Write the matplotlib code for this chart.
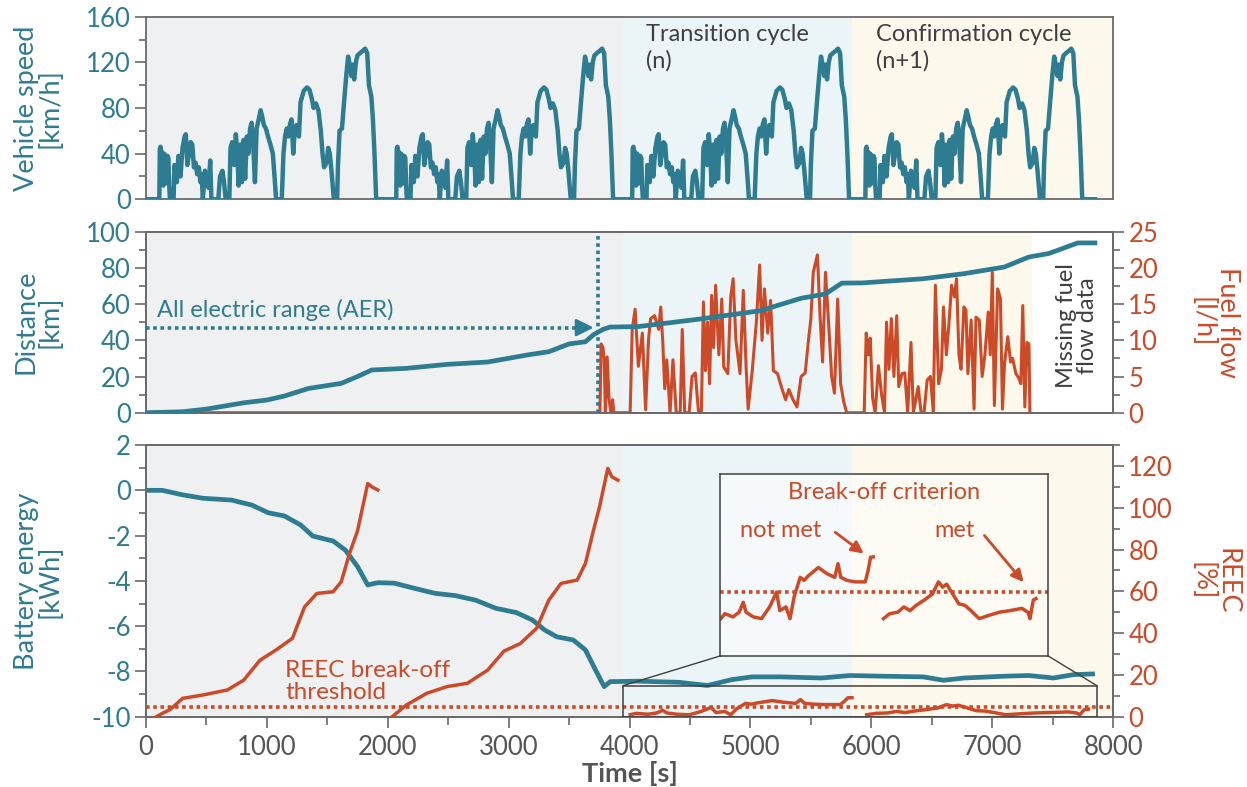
import matplotlib.pyplot as plt
from matplotlib.patches import Rectangle
from matplotlib.ticker import MultipleLocator

plt.rcParams['font.family'] = ['Lato', 'DejaVu Sans']
plt.rcParams['axes.unicode_minus'] = False

teal = '#2E7C91'
orange = '#CC4A28'
dark = '#3F3F3F'
spine_c = '#6A6A6A'

# one WLTP cycle: seconds from cycle start / km/h
cycle_t = [0, 10, 14, 20, 26, 30, 37, 43, 50, 57, 64, 70, 77, 85, 92, 98,
           128, 135, 155, 168, 185, 202, 219, 229, 242, 256, 269, 283, 296, 310,
           323, 337, 350, 360, 370, 387, 404, 417, 431, 441, 498, 512, 532, 545,
           559, 589, 599, 613, 630, 643, 656, 666, 680, 693, 707, 720, 734, 747,
           761, 774, 788, 801, 815, 832, 848, 862, 875, 892, 909, 929, 949, 963,
           976, 1023, 1037, 1050, 1064, 1077, 1091, 1104, 1118, 1131, 1144, 1165,
           1178, 1205, 1232, 1252, 1272, 1286, 1306, 1326, 1346, 1360, 1373, 1394,
           1407, 1420, 1434, 1454, 1481, 1488, 1501, 1521, 1542, 1558, 1572, 1585,
           1599, 1609, 1622, 1636, 1649, 1669, 1693, 1713, 1730, 1744, 1764, 1777,
           1790, 1804]
cycle_v = [0, 0, 44, 46, 14, 42, 36, 12, 40, 38, 30, 14, 38, 36, 12, 0,
           0, 30, 15, 38, 20, 45, 55, 57, 30, 40, 50, 48, 28, 32,
           22, 28, 15, 22, 0, 25, 20, 10, 34, 0, 0, 20, 25, 15,
           0, 0, 45, 50, 30, 57, 40, 12, 48, 15, 52, 18, 55, 40,
           62, 67, 45, 15, 62, 70, 78, 72, 65, 62, 55, 48, 40, 20,
           0, 0, 40, 55, 62, 55, 66, 70, 40, 62, 65, 55,
           85, 95, 98, 96, 88, 80, 84, 78, 60, 40, 28, 32,
           45, 40, 25, 0, 0, 30, 60, 62, 90, 110, 125, 118,
           108, 118, 105, 120, 126, 128, 130, 132, 128, 100, 90, 70,
           40, 0]
cycle_starts = [100, 2060, 4012, 5941]
speed_end = 7850

dist_t = [0, 300, 500, 811, 1000, 1144, 1345, 1615, 1750, 1868,
          2153, 2490, 2826, 3164, 3332, 3500, 3635, 3700, 3780, 3837,
          4074, 4577, 5080, 5418, 5621, 5756, 5924, 6428, 6766, 7101,
          7303, 7471, 7708, 7850]
dist_km = [0, 0.5, 2, 5.5, 7, 9.2, 13.4, 16.2, 20, 23.6,
           24.5, 26.7, 28, 32, 33.7, 38, 39.2, 43, 46, 47.3,
           47.6, 51.7, 56.3, 63.2, 65.6, 71.6, 71.7, 74, 76.8, 80.5,
           86, 88, 93.8, 93.8]

fuel_t = [0, 3755, 3765, 3780, 3790, 3800, 3815, 3830, 3845, 3860, 3870,
          4005, 4022, 4046, 4073, 4106, 4133, 4157, 4174, 4207, 4241, 4258,
          4275, 4291, 4308, 4335, 4359, 4386, 4419, 4436, 4456, 4493, 4517,
          4544, 4571, 4594, 4611, 4628, 4645, 4662, 4679, 4695, 4712, 4739,
          4763, 4779, 4813, 4837, 4857, 4880, 4914, 4941, 4965, 4981, 5015,
          5049, 5076, 5096, 5116, 5143, 5167, 5190, 5224, 5257, 5291, 5318,
          5352, 5385, 5419, 5453, 5480, 5500, 5520, 5554, 5577, 5597, 5621,
          5648, 5672, 5695, 5722, 5746, 5772, 5796, 5941, 5958, 5974, 5991,
          6011, 6032, 6059, 6085, 6109, 6126, 6146, 6166, 6187, 6210, 6227,
          6254, 6277, 6301, 6328, 6348, 6388, 6412, 6436, 6462, 6489, 6513,
          6530, 6557, 6580, 6597, 6621, 6641, 6664, 6688, 6705, 6725, 6742,
          6766, 6783, 6799, 6826, 6850, 6866, 6893, 6917, 6940, 6967, 6984,
          7001, 7018, 7045, 7068, 7085, 7102, 7129, 7152, 7169, 7196, 7220,
          7237, 7253, 7270, 7287, 7304, 7312]
fuel_lh = [0, 0, 9.5, 9.0, 7.5, 0, 7.7, 2, 0, 1.8, 0,
           0, 11.5, 14.3, 6.4, 11, 0.4, 10.1, 13, 13.4, 11.5, 14.6,
           9.7, 3.3, 7.3, 0, 7.3, 0, 0, 11.5, 0, 0, 5,
           5.5, 0, 0, 15.3, 5.8, 12.5, 4, 16.2, 9, 17.6, 8,
           15.7, 6.3, 5.4, 16, 18.5, 10, 5.4, 16.9, 6, 0.5, 5.8,
           12.5, 20.4, 10, 17.1, 11, 15.5, 5.8, 5.4, 3.5, 1.8, 3.2,
           1.8, 0.8, 5, 5.5, 10, 13, 19.4, 21.8, 13, 7, 19.4,
           12, 5, 2.7, 15.7, 4, 1.5, 0, 0, 11, 8, 10.3,
           2, 0, 6.5, 2.5, 0, 12.5, 6, 13, 5, 13.4, 3.6,
           5.4, 5.5, 0, 9.7, 0, 3.6, 0, 0, 4.5, 5, 0,
           17.6, 4, 6, 14.6, 8, 12, 17.6, 16, 18.5, 8, 6,
           14.6, 14.2, 5.4, 12.8, 0.5, 13.2, 12.8, 5, 8, 13.9, 8,
           19.4, 1, 17.1, 15.8, 0.5, 6.8, 10.5, 7, 7.5, 5.4, 4.8,
           4, 14.8, 0.8, 9.7, 9.5, 0]

batt_t = [0, 134, 303, 471, 706, 875, 1010, 1144, 1279, 1380,
          1548, 1649, 1750, 1834, 1918, 2053, 2221, 2390, 2558, 2726,
          2894, 3063, 3197, 3298, 3399, 3534, 3635, 3719, 3790, 3840,
          4072, 4409, 4645, 4847, 5015, 5250, 5587, 5823, 6092, 6429,
          6597, 6766, 7102, 7304, 7506, 7674, 7830]
batt_kwh = [0, 0.0, -0.2, -0.35, -0.43, -0.65, -0.99, -1.13, -1.53, -2.02,
            -2.24, -2.64, -3.37, -4.18, -4.08, -4.1, -4.33, -4.55, -4.65, -4.85,
            -5.21, -5.4, -5.73, -6.17, -6.47, -6.61, -7.05, -7.94, -8.67, -8.45,
            -8.43, -8.48, -8.62, -8.36, -8.24, -8.24, -8.29, -8.18, -8.21, -8.24,
            -8.39, -8.29, -8.21, -8.18, -8.29, -8.14, -8.11]

reec1_t = [85, 134, 201, 303, 471, 673, 808, 942, 1077, 1211, 1312, 1413,
           1548, 1615, 1683, 1750, 1834, 1868, 1918]
reec1 = [0, 1.6, 3.5, 8.8, 10.4, 12.8, 17.5, 27, 32, 37.5, 52.6, 59,
         59.8, 64.6, 78, 89, 111.6, 110, 108.5]
reec2_t = [2036, 2153, 2322, 2490, 2658, 2826, 2961, 3096, 3231, 3332, 3433,
           3567, 3635, 3702, 3752, 3820, 3853, 3904]
reec2 = [0, 5.6, 11.2, 14.4, 16, 22.3, 31.4, 35, 42.3, 55.8, 63.8,
         65.4, 73.4, 89.3, 100.5, 118.8, 114.8, 113.2]
reec3_t = [4005, 4054, 4152, 4225, 4274, 4308, 4396, 4494, 4592, 4675, 4714,
           4788, 4837, 4886, 4959, 5008, 5057, 5179, 5277, 5375, 5414, 5448,
           5522, 5620, 5742, 5776, 5806, 5840]
reec3 = [0.95, 1.6, 1.17, 1.8, 3.1, 1.8, 1.17, 0.95, 2.5, 4.45, 2.0,
         2.5, 0.95, 3.8, 6.4, 6.0, 6.6, 7.7, 6.9, 6.4, 8.2, 6.4,
         6.0, 5.8, 5.8, 7.3, 9.05, 9.1]
reec4_t = [5962, 6036, 6134, 6207, 6280, 6354, 6452, 6549, 6623, 6672, 6721,
           6794, 6867, 6941, 7014, 7112, 7234, 7357, 7479, 7626, 7699, 7724,
           7763, 7797]
reec4 = [0.95, 1.6, 1.8, 2.5, 2.0, 2.7, 3.4, 4.2, 5.8, 5.1, 5.5,
         4.2, 2.9, 2.7, 2.0, 0.95, 1.4, 1.8, 2.0, 2.3, 1.8, 0.95,
         3.4, 3.6]
reec_threshold = 4.5

aer_time = 3736
aer_km = 47
transition_start = 3942
confirmation_start = 5839
fuel_missing_from = 7330

TICK = 18.5
LAB = 19.5
NOTE = 17

# speed trace: same cycle repeated at each start
spd_t = [0]
spd_v = [0]
for s in cycle_starts:
    spd_t += [s + t for t in cycle_t]
    spd_v += cycle_v
spd_t.append(speed_end)
spd_v.append(0)


def style(ax):
    for sp in ax.spines.values():
        sp.set_color(spine_c)
        sp.set_linewidth(1.3)
    ax.tick_params(axis='y', which='both', direction='out', colors=spine_c,
                   labelcolor=teal, labelsize=TICK, width=1.2, pad=3)
    ax.tick_params(axis='y', which='major', length=8)
    ax.tick_params(axis='y', which='minor', length=5)
    ax.set_xlim(0, 8000)


def shade(ax, end):
    ax.axvspan(0, transition_start, color='#EEF0F2', lw=0, zorder=0)
    ax.axvspan(transition_start, confirmation_start, color='#EBF4F7', lw=0, zorder=0)
    ax.axvspan(confirmation_start, end, color='#FDF8EC', lw=0, zorder=0)


def right_label(ax, text):
    ax.text(1.105, 0.5, text, transform=ax.transAxes, color=orange, fontsize=LAB,
            rotation=-90, ha='center', va='center', multialignment='center',
            linespacing=1.0)


fig = plt.figure(figsize=(12.47, 7.87), dpi=100)
ax1 = fig.add_axes([0.1171, 0.7468, 0.7755, 0.232])
ax2 = fig.add_axes([0.1171, 0.4756, 0.7755, 0.230])
ax3 = fig.add_axes([0.1171, 0.0893, 0.7755, 0.3452])

# --- vehicle speed
shade(ax1, 8000)
ax1.plot(spd_t, spd_v, color=teal, lw=3.2, zorder=3)
ax1.set_ylim(0, 160)
style(ax1)
ax1.yaxis.set_major_locator(MultipleLocator(40))
ax1.yaxis.set_minor_locator(MultipleLocator(20))
ax1.set_xticks([])
ax1.set_ylabel('Vehicle speed\n[km/h]', color=teal, fontsize=LAB, linespacing=0.95)
ax1.yaxis.set_label_coords(-0.086, 0.5)
ax1.text(4140, 154, 'Transition cycle\n(n)', color=dark, fontsize=NOTE, va='top',
         linespacing=1.3)
ax1.text(6040, 154, 'Confirmation cycle\n(n+1)', color=dark, fontsize=NOTE, va='top',
         linespacing=1.3)

# --- distance / fuel flow (fuel axis underneath, distance on top)
ax2r = ax2.twinx()
shade(ax2r, fuel_missing_from)
ax2r.plot(fuel_t, fuel_lh, color=orange, lw=2.2, zorder=3)
ax2r.set_ylim(0, 25)
style(ax2r)
ax2r.tick_params(axis='y', which='both', labelcolor=orange)
ax2r.yaxis.set_major_locator(MultipleLocator(5))
ax2r.yaxis.set_minor_locator(MultipleLocator(2.5))
right_label(ax2r, 'Fuel flow\n[l/h]')
ax2.set_zorder(ax2r.get_zorder() + 1)
ax2.patch.set_visible(False)

ax2.plot(dist_t, dist_km, color=teal, lw=3.4, zorder=4)
ax2.set_ylim(0, 100)
style(ax2)
ax2.yaxis.set_major_locator(MultipleLocator(20))
ax2.yaxis.set_minor_locator(MultipleLocator(10))
ax2.set_xticks([])
ax2.set_ylabel('Distance\n[km]', color=teal, fontsize=LAB, linespacing=0.95)
ax2.yaxis.set_label_coords(-0.086, 0.5)
ax2.plot([0, 3630], [aer_km, aer_km], color=teal, lw=2.6, ls=(0, (1, 1)), zorder=5)
ax2.annotate('', xy=(aer_time - 10, aer_km), xytext=(3560, aer_km),
             arrowprops=dict(arrowstyle='-|>', color=teal, lw=2, mutation_scale=26),
             zorder=5)
ax2.plot([aer_time, aer_time], [0, 98], color=teal, lw=2.6, ls=(0, (1, 1)), zorder=5)
ax2.text(90, 57, 'All electric range (AER)', color=teal, fontsize=NOTE, va='center')
ax2.text(7700, 48, 'Missing fuel\nflow data', color=dark, fontsize=NOTE, rotation=90,
         ha='center', va='center', linespacing=1.0)

# --- battery energy / REEC
shade(ax3, 8000)
ax3.plot(batt_t, batt_kwh, color=teal, lw=3.4, zorder=3)
ax3.set_ylim(-10, 2)
style(ax3)
ax3.yaxis.set_major_locator(MultipleLocator(2))
ax3.yaxis.set_minor_locator(MultipleLocator(1))
ax3.xaxis.set_major_locator(MultipleLocator(1000))
ax3.xaxis.set_minor_locator(MultipleLocator(500))
ax3.tick_params(axis='x', which='both', direction='out', colors=spine_c,
                labelcolor='#555555', labelsize=TICK, width=1.2, pad=5)
ax3.tick_params(axis='x', which='major', length=8)
ax3.tick_params(axis='x', which='minor', length=6)
ax3.set_ylabel('Battery energy\n[kWh]', color=teal, fontsize=LAB, linespacing=0.95)
ax3.yaxis.set_label_coords(-0.086, 0.5)
ax3.set_xlabel('Time [s]', color='#555555', fontsize=LAB, fontweight='bold', labelpad=1)

ax3r = ax3.twinx()
ax3r.set_ylim(0, 130)
style(ax3r)
ax3r.tick_params(axis='y', which='both', labelcolor=orange)
ax3r.yaxis.set_major_locator(MultipleLocator(20))
ax3r.yaxis.set_minor_locator(MultipleLocator(10))
right_label(ax3r, 'REEC\n[%]')
for tt, vv in [(reec1_t, reec1), (reec2_t, reec2), (reec3_t, reec3), (reec4_t, reec4)]:
    ax3r.plot(tt, vv, color=orange, lw=2.5, zorder=3)
ax3r.axhline(reec_threshold, color=orange, lw=2.6, ls=(0, (1, 1)), zorder=2)
ax3r.text(1150, 17, 'REEC break-off\nthreshold', color=orange, fontsize=NOTE + 0.5,
          va='center', linespacing=1.05)

# zoom box and inset
box_x0, box_x1, box_top = 3948, 7865, 14.9
ins_x0, ins_x1, ins_y0, ins_y1 = 4745, 7465, 29, 116
ax3r.add_patch(Rectangle((box_x0, 0), box_x1 - box_x0, box_top, fill=False,
                         ec=dark, lw=1.1, zorder=4))
ax3r.plot([box_x0, ins_x0], [box_top, ins_y0], color=dark, lw=1.0, zorder=4)
ax3r.plot([box_x1, ins_x1], [box_top, ins_y0], color=dark, lw=1.0, zorder=4)

axin = ax3r.inset_axes([ins_x0, ins_y0, ins_x1 - ins_x0, ins_y1 - ins_y0],
                       transform=ax3r.transData)
axin.patch.set_facecolor('white')
axin.patch.set_alpha(0.5)
for sp in axin.spines.values():
    sp.set_color(dark)
    sp.set_linewidth(1.1)
axin.set_xticks([])
axin.set_yticks([])
axin.set_xlim(3990, 7945)
axin.set_ylim(-4, 20)
axin.plot(reec3_t, reec3, color=orange, lw=2.5)
axin.plot(reec4_t, reec4, color=orange, lw=2.5)
axin.axhline(reec_threshold, color=orange, lw=2.6, ls=(0, (1, 1)))
axin.text(0.5, 0.9, 'Break-off criterion', transform=axin.transAxes, color=orange,
          fontsize=NOTE, ha='center', va='center')
axin.text(0.186, 0.69, 'not met', transform=axin.transAxes, color=orange,
          fontsize=NOTE, ha='center', va='center')
axin.text(0.715, 0.69, 'met', transform=axin.transAxes, color=orange,
          fontsize=NOTE, ha='center', va='center')
axin.annotate('', xy=(0.445, 0.555), xytext=(0.345, 0.69), xycoords='axes fraction',
              arrowprops=dict(arrowstyle='-|>', color=orange, lw=2, mutation_scale=18))
axin.annotate('', xy=(0.93, 0.395), xytext=(0.8, 0.675), xycoords='axes fraction',
              arrowprops=dict(arrowstyle='-|>', color=orange, lw=2, mutation_scale=18))

fig.savefig('out.png', dpi=100)
